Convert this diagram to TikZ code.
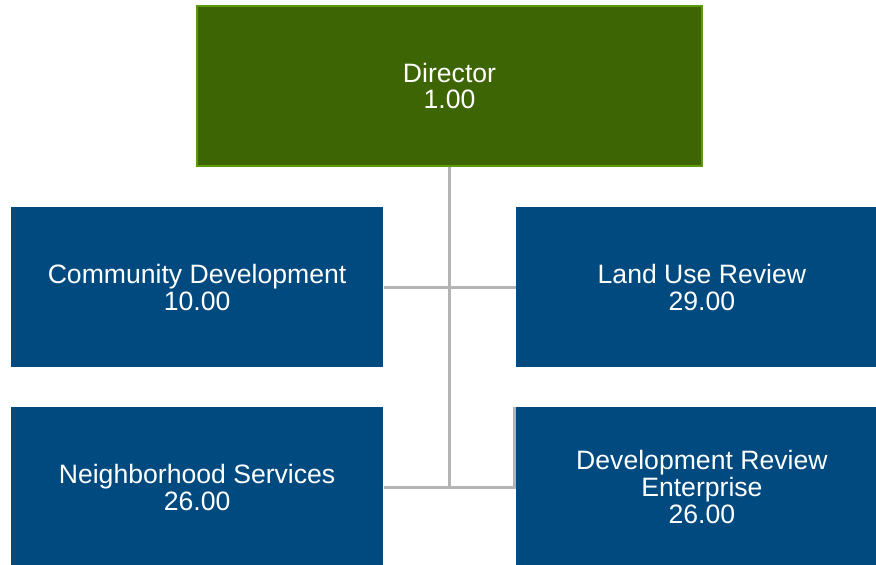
\documentclass[tikz,border=0pt]{standalone}
\usepackage{fontspec}
\setmainfont{Liberation Sans}
\usepackage{xcolor}
\usetikzlibrary{positioning,backgrounds}
\definecolor{colHead}{HTML}{3D6503}
\definecolor{colHeadEdge}{HTML}{5C9A0C}
\definecolor{colUnit}{HTML}{004A7F}
\definecolor{colLink}{HTML}{B4B4B4}

\begin{document}
\begin{tikzpicture}[
  x=0.5pt, y=-0.5pt,
  head/.style={draw=colHeadEdge, line width=1pt, fill=colHead, text=white,
               minimum width=252.5pt, minimum height=80pt, align=center,
               font=\fontsize{13.3}{13.4}\selectfont},
  unit/.style={fill=colUnit, text=white, minimum width=186pt, minimum height=80pt,
               align=center, font=\fontsize{13.3}{13.4}\selectfont},
  link/.style={draw=colLink, line width=1.5pt}
]
  \useasboundingbox (0,0) rectangle (876,564);

  \node[head] (dir) at (449.5,86) {Director\\1.00};
  \node[unit, below left=20pt and 33pt of dir.south]  (cd)  {Community Development\\10.00};
  \node[unit, below right=20pt and 33pt of dir.south] (lur) {Land Use Review\\29.00};
  \node[unit, below=19.5pt of cd]  (ns)  {Neighborhood Services\\26.00};
  \node[unit, below=19.5pt of lur] (dre) {Development Review\\Enterprise\\26.00};

  \begin{scope}[on background layer]
    \draw[link] (dir.south) -- (dir.south |- ns.east);
    \draw[link] (cd.east) -- (lur.west);
    \draw[link] (ns.east) -- ([xshift=-0.5pt]dre.west) -- ([xshift=-0.5pt]dre.north west);
  \end{scope}
\end{tikzpicture}
\end{document}
